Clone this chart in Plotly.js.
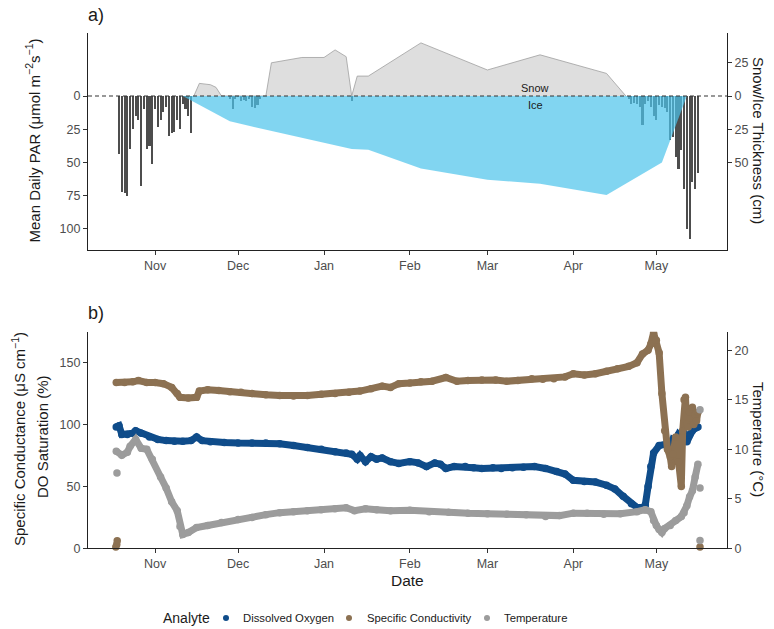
<!DOCTYPE html>
<html><head><meta charset="utf-8">
<script src="https://cdn.plot.ly/plotly-3.0.1.min.js"></script>
<style>html,body{margin:0;padding:0;background:#fff}#chart{width:774px;height:629px}</style>
</head><body><div id="chart"></div>
<script>
// ---------- Panel a data ----------
const parDates = [
 '2018-10-19','2018-10-20','2018-10-21','2018-10-22','2018-10-23','2018-10-24','2018-10-25','2018-10-26','2018-10-27','2018-10-28',
 '2018-10-29','2018-10-30','2018-10-31','2018-11-01','2018-11-02','2018-11-03','2018-11-04','2018-11-05','2018-11-06','2018-11-07',
 '2018-11-08','2018-11-09','2018-11-10','2018-11-11','2018-11-12','2018-11-13','2018-11-14',
 '2018-11-28','2018-11-29','2018-11-30','2018-12-01','2018-12-02','2018-12-03','2018-12-04','2018-12-05','2018-12-06','2018-12-07',
 '2018-12-08','2018-12-09','2019-01-11',
 '2019-04-21','2019-04-22','2019-04-23','2019-04-24','2019-04-25','2019-04-26','2019-04-27','2019-04-28','2019-04-29','2019-04-30',
 '2019-05-01','2019-05-02','2019-05-03','2019-05-04','2019-05-05','2019-05-06','2019-05-07','2019-05-08','2019-05-09','2019-05-10',
 '2019-05-11','2019-05-12','2019-05-13','2019-05-14','2019-05-15','2019-05-16'
];
const parValues = [
 44,72,73,75,40,25,15,18,68,10,
 40,38,51,10,23,18,12,8,30,28,
 27,18,25,6,10,15,28,
 2,10,2,1,4,3,4,2,8,9,
 7,2,4,
 2,6,5,6,8,22,6,4,8,15,
 18,7,8,9,12,33,31,46,55,41,
 70,100,108,65,70,58
];
const snowDates = ['2018-11-15','2018-11-17','2018-11-21','2018-11-23','2018-11-25','2018-12-11','2018-12-13','2018-12-24',
 '2019-01-01','2019-01-05','2019-01-09','2019-01-11','2019-01-13','2019-01-17','2019-02-05','2019-03-01','2019-03-20','2019-04-13','2019-04-20'];
const snowThickness = [0,9.5,8.5,6.5,0,0,25,29,29,34.7,29.6,0,15,15,40,19.6,31,17,0];
const iceDates = ['2018-11-11','2018-11-28','2018-12-06','2019-01-11','2019-01-17','2019-02-05','2019-03-01','2019-03-20','2019-04-13','2019-05-03','2019-05-12'];
const iceThickness = [0,19,23,40,40.5,54.5,63,66,74.5,50,0];

// ---------- Panel b data ----------
const doDates = ['2018-10-18','2018-10-19','2018-10-20','2018-10-22','2018-10-24','2018-10-25','2018-10-27','2018-10-30','2018-11-02','2018-11-05',
 '2018-11-08','2018-11-11','2018-11-14','2018-11-16','2018-11-18','2018-11-21','2018-11-26','2018-12-01','2018-12-06','2018-12-11',
 '2018-12-16','2018-12-21','2018-12-26','2018-12-31','2019-01-05','2019-01-09','2019-01-11','2019-01-13','2019-01-14','2019-01-16',
 '2019-01-18','2019-01-20','2019-01-22','2019-01-25','2019-01-28','2019-02-01','2019-02-04','2019-02-07','2019-02-10','2019-02-12',
 '2019-02-14','2019-02-17','2019-02-21','2019-02-24','2019-02-27','2019-03-03','2019-03-06','2019-03-10','2019-03-14','2019-03-18',
 '2019-03-22','2019-03-26','2019-03-29','2019-04-01','2019-04-05','2019-04-09','2019-04-13','2019-04-16','2019-04-19','2019-04-22',
 '2019-04-24','2019-04-26','2019-04-27','2019-04-28','2019-04-29','2019-04-30','2019-05-02','2019-05-05','2019-05-06','2019-05-07',
 '2019-05-08','2019-05-09','2019-05-10','2019-05-11','2019-05-12','2019-05-13','2019-05-14','2019-05-15','2019-05-16'];
const doValues = [98,99,92,92,93,95,93,90,88,87,
 86.5,86.5,87,90,87,86,85.5,85,85,85,
 84.5,83,81.5,80,78,77,76,72,75,70,
 74,72,73,70,68.5,70,69,66,69,68,
 64.5,66,66,65,64.5,65,64.5,65,65.5,66,
 64.5,62,60,55,54,53.5,51,48,42,36,
 33,33,35,50,66,77,83,84.5,80,88,
 87,92,90,93,86,92,95,97,98];

const spcDates = ['2018-10-18','2018-10-21','2018-10-24','2018-10-26','2018-10-29','2018-11-01','2018-11-04','2018-11-07','2018-11-09','2018-11-10',
 '2018-11-13','2018-11-16','2018-11-17','2018-11-20','2018-11-24','2018-11-28','2018-12-02','2018-12-06','2018-12-11','2018-12-16',
 '2018-12-21','2018-12-26','2018-12-31','2019-01-05','2019-01-10','2019-01-14','2019-01-18','2019-01-22','2019-01-25','2019-01-28',
 '2019-02-01','2019-02-05','2019-02-09','2019-02-14','2019-02-18','2019-02-22','2019-02-27','2019-03-04','2019-03-08','2019-03-12',
 '2019-03-17','2019-03-21','2019-03-25','2019-03-29','2019-04-01','2019-04-05','2019-04-09','2019-04-13','2019-04-17','2019-04-21',
 '2019-04-24','2019-04-26','2019-04-28','2019-04-29','2019-04-30','2019-05-01','2019-05-02','2019-05-03','2019-05-04','2019-05-05',
 '2019-05-06','2019-05-06 12:00','2019-05-07','2019-05-08','2019-05-09','2019-05-10','2019-05-10 12:00','2019-05-11','2019-05-11 12:00','2019-05-12',
 '2019-05-12 12:00','2019-05-13','2019-05-14','2019-05-14 12:00','2019-05-15','2019-05-15 12:00','2019-05-16'];
const spcValues = [134,134,134.5,135.5,134,134,133,130,125,122,
 121.5,122,127,128,127.5,126.5,126,125,124,123.5,
 123,123.5,124.5,125,126,127,129,131,130,133,
 133.5,134.5,135,138,135,135.5,136,136,135,135.5,
 137,136.5,137,138.5,141,140,141,143,145,147,
 150,157,160,165,174,168,158,125,95,80,
 74,66,76,90,70,50,95,120,122,100,
 98,110,114,100,108,103,110];
const spcOutlierDates = ['2018-10-17 20:00','2018-10-18 04:00','2018-10-18 08:00','2019-05-16 18:00'];
const spcOutlierValues = [1,3,6,1];

const tempDates = ['2018-10-18','2018-10-20','2018-10-22','2018-10-23','2018-10-25','2018-10-27','2018-10-29','2018-10-31','2018-11-03','2018-11-05',
 '2018-11-07','2018-11-09','2018-11-10','2018-11-11','2018-11-13','2018-11-16','2018-11-20','2018-11-25','2018-12-01','2018-12-06',
 '2018-12-11','2018-12-16','2018-12-21','2018-12-26','2018-12-31','2019-01-05','2019-01-09','2019-01-12','2019-01-16','2019-01-20',
 '2019-01-25','2019-02-01','2019-02-08','2019-02-15','2019-02-22','2019-03-01','2019-03-08','2019-03-15','2019-03-22','2019-03-27',
 '2019-04-01','2019-04-06','2019-04-12','2019-04-18','2019-04-24','2019-04-27','2019-04-29','2019-04-30','2019-05-01','2019-05-02',
 '2019-05-03','2019-05-04','2019-05-06','2019-05-08','2019-05-10','2019-05-11','2019-05-12','2019-05-13','2019-05-14','2019-05-15',
 '2019-05-16'];
const tempValues = [9.8,9.4,9.7,10.3,11.0,10.1,10.0,9.0,7.2,6.1,
 4.7,3.8,2.2,1.4,1.6,2.1,2.3,2.6,2.9,3.1,
 3.4,3.6,3.7,3.8,3.9,4.0,4.1,3.8,4.0,3.9,
 3.8,3.85,3.7,3.65,3.55,3.5,3.45,3.4,3.2,3.3,
 3.55,3.55,3.45,3.5,3.7,3.9,3.7,2.8,2.3,1.9,
 1.6,2.0,2.3,2.8,3.2,3.6,4.3,5.2,5.8,7.2,
 8.5];
const tempOutlierDates = ['2018-10-18 06:00','2019-05-16 18:00','2019-05-16 18:00','2019-05-16 18:00'];
const tempOutlierValues = [7.6,14.0,6.1,0.8];

const legendTitle = 'Analyte';
const legendNames = ['Dissolved Oxygen','Specific Conductivity','Temperature'];
const legendColors = ['#0f4c8a','#8c7152','#9c9c9c'];

// ---------- Figure ----------
const FONT = 'Liberation Sans, Arial, sans-serif';
const W = 774, H = 629;
const px = v => v / W, py = v => 1 - v / H;
const xDom = [px(88), px(727)];
const yDomA = [py(250), py(33)];
const yDomB = [py(548.3), py(331.7)];
const X0 = '2018-10-07 19:00', X1 = '2019-05-26 12:00';
const DAY = 86400000;

const axisBase = {showline:true, linecolor:'#222', linewidth:1.1, ticks:'outside', ticklen:4, tickwidth:1,
  tickcolor:'#333', tickfont:{family:FONT, size:12.5, color:'#4d4d4d'}, showgrid:false, zeroline:false};

const LW = 7, MS = 7.5;
const traces = [
  {type:'bar', x:parDates, y:parValues, xaxis:'x', yaxis:'y', width:0.75*DAY,
   marker:{color:'#4d4d4d', line:{width:0}}, showlegend:false, hoverinfo:'skip'},
  {type:'scatter', mode:'lines', x:snowDates, y:snowThickness.map(v => -v), xaxis:'x', yaxis:'y2',
   fill:'tozeroy', fillcolor:'#dedede', line:{color:'#a0a0a0', width:0.8}, showlegend:false, hoverinfo:'skip'},
  {type:'scatter', mode:'lines', x:iceDates, y:iceThickness, xaxis:'x', yaxis:'y2',
   fill:'tozeroy', fillcolor:'rgba(75,195,235,0.7)', line:{color:'rgba(0,0,0,0)', width:0}, showlegend:false, hoverinfo:'skip'},

  {type:'scatter', mode:'lines+markers', name:legendNames[0], x:doDates, y:doValues, xaxis:'x2', yaxis:'y3',
   line:{color:legendColors[0], width:LW}, marker:{color:legendColors[0], size:MS}, showlegend:false, hoverinfo:'skip'},
  {type:'scatter', mode:'lines+markers', name:legendNames[1], x:spcDates, y:spcValues, xaxis:'x2', yaxis:'y3',
   line:{color:legendColors[1], width:LW}, marker:{color:legendColors[1], size:MS}, showlegend:false, hoverinfo:'skip'},
  {type:'scatter', mode:'markers', x:spcOutlierDates, y:spcOutlierValues, xaxis:'x2', yaxis:'y3', cliponaxis:false,
   marker:{color:legendColors[1], size:MS}, showlegend:false, hoverinfo:'skip'},
  {type:'scatter', mode:'lines+markers', name:legendNames[2], x:tempDates, y:tempValues, xaxis:'x2', yaxis:'y4',
   line:{color:legendColors[2], width:LW}, marker:{color:legendColors[2], size:MS}, showlegend:false, hoverinfo:'skip'},
  {type:'scatter', mode:'markers', x:tempOutlierDates, y:tempOutlierValues, xaxis:'x2', yaxis:'y4', cliponaxis:false,
   marker:{color:legendColors[2], size:MS}, showlegend:false, hoverinfo:'skip'}
];

const ann = (text, x, y, size, extra) => Object.assign({text, x:px(x), y:py(y), xref:'paper', yref:'paper',
  showarrow:false, font:{family:FONT, size, color:'#1a1a1a'}, xanchor:'center', yanchor:'middle'}, extra || {});

// manual legend (key row under panel b)
const legendY = 618;
const legendDotX = [226, 349, 487];
const legendTextX = [241, 365, 502];
const legendAnns = [ann(legendTitle, 186, legendY, 14)].concat(
  legendNames.map((n, i) => ann(n, legendTextX[i], legendY, 11.3, {xanchor:'left'})));
const legendDots = legendColors.map((c, i) => ({type:'circle', xref:'paper', yref:'paper', xsizemode:'pixel', ysizemode:'pixel',
  xanchor:px(legendDotX[i]), yanchor:py(legendY), x0:-3, x1:3, y0:-3, y1:3, fillcolor:c, line:{width:0}}));

const layout = {
  width:W, height:H, margin:{l:0, r:0, t:0, b:0}, paper_bgcolor:'#fff', plot_bgcolor:'rgba(0,0,0,0)',
  font:{family:FONT}, showlegend:false, bargap:0,
  xaxis:Object.assign({}, axisBase, {domain:xDom, anchor:'y', type:'date', range:[X0, X1], tickformat:'%b', dtick:'M1', tick0:'2018-11-01'}),
  yaxis:Object.assign({}, axisBase, {domain:yDomA, anchor:'x', range:[115.96, -47.44], tickvals:[0,25,50,75,100]}),
  yaxis2:Object.assign({}, axisBase, {overlaying:'y', side:'right', anchor:'x', range:[115.96, -47.44],
    tickvals:[-25,0,25,50], ticktext:['25','0','25','50']}),
  xaxis2:Object.assign({}, axisBase, {domain:xDom, anchor:'y3', type:'date', range:[X0, X1], tickformat:'%b', dtick:'M1', tick0:'2018-11-01'}),
  yaxis3:Object.assign({}, axisBase, {domain:yDomB, anchor:'x2', range:[0, 175], tickvals:[0,50,100,150]}),
  yaxis4:Object.assign({}, axisBase, {overlaying:'y3', side:'right', anchor:'x2', range:[0, 21.875], tickvals:[0,5,10,15,20]}),
  shapes:[{type:'line', xref:'x', yref:'y', x0:X0, x1:X1, y0:0, y1:0, layer:'above',
    line:{color:'#333', width:1.1, dash:'4px,3px'}}].concat(legendDots),
  annotations:[
    ann('a)', 96, 15, 18),
    ann('b)', 96, 313, 18),
    ann('Mean Daily PAR (μmol m<sup>−2</sup>s<sup>−1</sup>)', 32.5, 141, 15, {textangle:-90}),
    ann('Snow/Ice Thickness (cm)', 759, 140, 15, {textangle:90}),
    ann('Specific Conductance (μS cm<sup>−1</sup>)', 18, 439, 15, {textangle:-90}),
    ann('DO Saturation (%)', 42, 437, 15, {textangle:-90}),
    ann('Temperature (°C)', 759, 439, 15, {textangle:90}),
    ann('Date', 407, 580, 15.5),
    ann('Snow', 535, 88, 11),
    ann('Ice', 535, 105, 11)
  ].concat(legendAnns)
};

Plotly.newPlot('chart', traces, layout, {staticPlot:true, displayModeBar:false});
</script></body></html>
